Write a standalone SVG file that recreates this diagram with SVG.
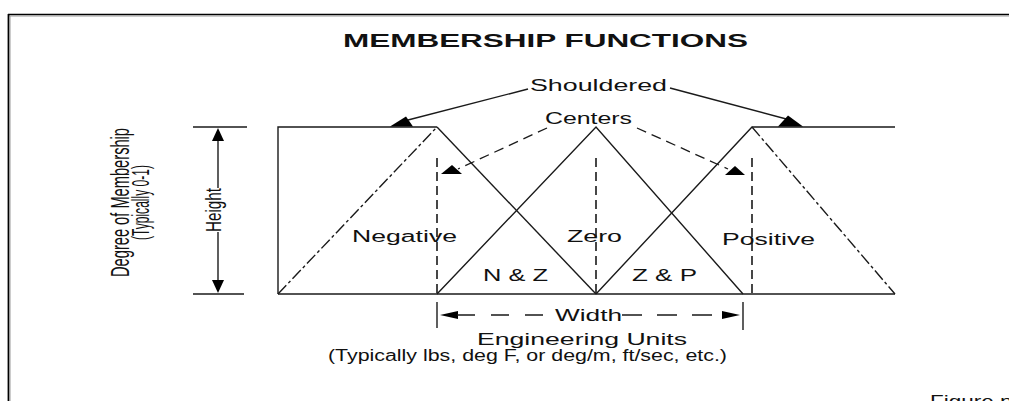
<svg xmlns="http://www.w3.org/2000/svg" width="1009" height="401" viewBox="0 0 1009 401">
<style>
.ln{stroke:#1a1a1a;stroke-width:1.4;fill:none}
.dd{stroke:#1a1a1a;stroke-width:1.4;fill:none;stroke-dasharray:12,3,3,3}
.vd{stroke:#1a1a1a;stroke-width:1.6;fill:none;stroke-dasharray:9,5}
.cd{stroke:#1a1a1a;stroke-width:1.3;fill:none;stroke-dasharray:10,6}
.ah{fill:#000;stroke:none}
.t{font-family:"Liberation Sans",Arial,sans-serif;fill:#111;font-size:16px}
.tb{font-family:"Liberation Sans",Arial,sans-serif;fill:#111;font-size:18px;font-weight:bold}
</style>
<rect width="1009" height="401" fill="#fff"/>
<g id="frame">
<line x1="8" y1="14.5" x2="1009" y2="14.5" stroke="#000" stroke-width="1.6"/>
<line x1="8" y1="16" x2="1009" y2="16" stroke="#999" stroke-width="1"/>
<line x1="8.5" y1="14" x2="8.5" y2="401" stroke="#000" stroke-width="1.8"/>
<line x1="10" y1="16" x2="10" y2="401" stroke="#999" stroke-width="1"/>
</g>
<g id="title"><text class="tb" x="343" y="47" textLength="405" lengthAdjust="spacingAndGlyphs">MEMBERSHIP FUNCTIONS</text></g>
<g id="negative">
<polyline class="ln" points="437,127 278,127 278,294"/>
<line class="dd" x1="278" y1="294" x2="437" y2="127"/>
<line class="ln" x1="437" y1="127" x2="596" y2="294"/>
<text class="t" x="352" y="242" textLength="105" lengthAdjust="spacingAndGlyphs">Negative</text>
</g>
<g id="zero">
<polyline class="ln" points="437,294 596,127 743,294"/>
<text class="t" x="567" y="242" textLength="55" lengthAdjust="spacingAndGlyphs">Zero</text>
</g>
<g id="positive">
<polyline class="ln" points="596,294 752,127 895,127"/>
<line class="dd" x1="752" y1="127" x2="895" y2="294"/>
<text class="t" x="722" y="245" textLength="93" lengthAdjust="spacingAndGlyphs">Positive</text>
</g>
<g id="baseline"><line class="ln" x1="278" y1="294" x2="895" y2="294"/></g>
<g id="overlaps">
<text class="t" x="483" y="281" textLength="65" lengthAdjust="spacingAndGlyphs">N &amp; Z</text>
<text class="t" x="632" y="281" textLength="65" lengthAdjust="spacingAndGlyphs">Z &amp; P</text>
</g>
<g id="center-lines">
<line class="vd" x1="437" y1="158" x2="437" y2="294"/>
<line class="vd" x1="596" y1="158" x2="596" y2="294"/>
<line class="vd" x1="752" y1="158" x2="752" y2="294"/>
</g>
<g id="shouldered">
<text class="t" x="530" y="91" textLength="137" lengthAdjust="spacingAndGlyphs">Shouldered</text>
</g>
<g id="centers">
<text class="t" x="545" y="124" textLength="87" lengthAdjust="spacingAndGlyphs">Centers</text>
</g>
<g id="connectors">
<line class="ln" x1="528" y1="89" x2="408" y2="120"/>
<polygon class="ah" points="390,126.5 413,126.5 406,116.5"/>
<line class="ln" x1="670" y1="88" x2="790" y2="120"/>
<polygon class="ah" points="778,126.5 803,126.5 788,115.5"/>
<line class="cd" x1="547" y1="128" x2="458" y2="169"/>
<polygon class="ah" points="441,174 462,174 452,165"/>
<line class="cd" x1="637" y1="128" x2="728" y2="169"/>
<polygon class="ah" points="725,175 745,175 735,166"/>
</g>
<g id="height">
<line class="ln" x1="193" y1="127" x2="247" y2="127"/>
<line class="ln" x1="193" y1="294" x2="244" y2="294"/>
<line class="ln" x1="218" y1="139" x2="218" y2="188"/>
<line class="ln" x1="218" y1="232" x2="218" y2="282"/>
<polygon class="ah" points="218,128 212,141 224,141"/>
<polygon class="ah" points="218,293 212,280 224,280"/>
<text class="t" font-size="14" text-anchor="middle" textLength="44" lengthAdjust="spacingAndGlyphs" transform="translate(221,210) rotate(-90) scale(1,1.35)">Height</text>
</g>
<g id="y-axis-label">
<text class="t" font-size="15" text-anchor="middle" textLength="149" lengthAdjust="spacingAndGlyphs" transform="translate(129,202.5) rotate(-90) scale(1,1.6)">Degree of Membership</text>
<text class="t" font-size="14" text-anchor="middle" textLength="75" lengthAdjust="spacingAndGlyphs" transform="translate(149,202.5) rotate(-90) scale(1,1.5)">(Typically 0-1)</text>
</g>
<g id="width">
<line class="ln" x1="437" y1="302" x2="437" y2="328"/>
<line class="ln" x1="743" y1="302" x2="743" y2="330"/>
<polygon class="ah" points="440,315 458,311 458,319"/>
<polygon class="ah" points="740,315 722,311 722,319"/>
<line class="ln" x1="457" y1="315" x2="548" y2="315" stroke-dasharray="18,16"/>
<line class="ln" x1="622" y1="315" x2="722" y2="315" stroke-dasharray="20,15"/>
<text class="t" x="555" y="321" textLength="67" lengthAdjust="spacingAndGlyphs">Width</text>
</g>
<g id="units">
<text class="t" x="477" y="345" textLength="210" lengthAdjust="spacingAndGlyphs">Engineering Units</text>
<text class="t" x="328" y="361" textLength="399" lengthAdjust="spacingAndGlyphs">(Typically lbs, deg F, or deg/m, ft/sec, etc.)</text>
</g>
<g id="caption"><text class="t" x="930" y="407" textLength="95" lengthAdjust="spacingAndGlyphs">Figure no</text></g>
</svg>
